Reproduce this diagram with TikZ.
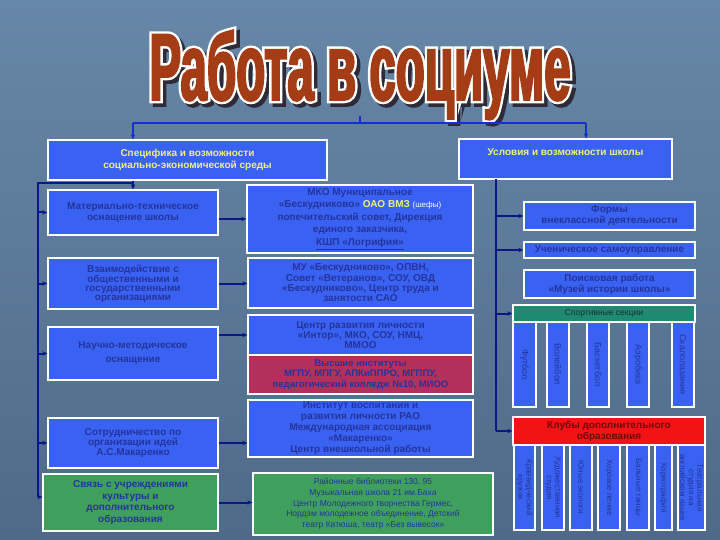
\documentclass[tikz,border=0pt]{standalone}
\usepackage{fontspec}
\setmainfont{Liberation Sans}
\newfontfamily\titlefont[FakeStretch=0.5, FakeBold=2]{Liberation Sans}
\newfontfamily\titleedge[FakeStretch=0.5, FakeBold=7]{Liberation Sans}
\usetikzlibrary{positioning, arrows.meta}

\definecolor{bgtop}{HTML}{6787A8}
\definecolor{bgbot}{HTML}{4F6A88}
\definecolor{boxblue}{HTML}{3A62F2}
\definecolor{boxtext}{HTML}{24349C}
\definecolor{boxgreen}{HTML}{3FA05E}
\definecolor{boxcrimson}{HTML}{B3305C}
\definecolor{boxteal}{HTML}{1F8A72}
\definecolor{boxred}{HTML}{F21414}
\definecolor{arrowblue}{HTML}{0B1688}
\definecolor{barblue}{HTML}{1530D0}
\definecolor{titlered}{HTML}{A43C16}
\definecolor{titleshade}{HTML}{2E2A36}
\definecolor{capyellow}{HTML}{F2F27A}

\begin{document}
\begin{tikzpicture}[x=1pt, y=-1pt, >={Stealth[length=5pt,width=4.5pt]},
    bluebox/.style={draw=white, line width=1.3pt, fill=boxblue, text=boxtext,
        font=\bfseries\fontsize{10}{11.5}\selectfont, align=center, inner sep=1pt},
    greenbox/.style={bluebox, fill=boxgreen},
    capbox/.style={bluebox, text=capyellow},
    vbox/.style={bluebox, rotate=-90, font=\fontsize{9}{10}\selectfont},
    clubbox/.style={vbox, font=\fontsize{8}{8.6}\selectfont},
    conn/.style={draw=arrowblue, line width=2pt},
    arr/.style={conn, ->},
    barline/.style={draw=barblue, line width=2pt}]

    % Background
    \shade[top color=bgtop, bottom color=bgbot] (0,0) rectangle (720,540);
    \useasboundingbox (0,0) rectangle (720,540);

    % Title
    \node[font=\titleedge\bfseries\fontsize{95}{95}\selectfont, text=titleshade, anchor=base] (titleshadow) at (363.5,103.5)
        {Работа в социуме};
    \node[font=\titleedge\bfseries\fontsize{95}{95}\selectfont, text=white, anchor=base] (titleedge) at (360,100)
        {Работа в социуме};
    \node[font=\titlefont\bfseries\fontsize{95}{95}\selectfont, text=titlered, anchor=base] (title) at (360,100)
        {Работа в социуме};

    % Two main blocks
    \node[capbox, minimum width=279pt, minimum height=40pt] (social) at (187.5,160)
        {Специфика и возможности\\социально-экономической среды};
    \node[capbox, minimum width=213pt, minimum height=40pt, text depth=14pt] (school) at (565.5,159)
        {Условия и возможности школы};

    % Left column
    \node[bluebox, minimum width=170pt, minimum height=45pt] (equip) at (133,212.5)
        {Материально-техническое\\оснащение школы};
    \node[bluebox, minimum width=170pt, minimum height=51pt, font=\bfseries\fontsize{10}{9}\selectfont] (orgs) at (133,283.5)
        {Взаимодействие с\\общественными и\\государственными\\организациями};
    \node[bluebox, minimum width=170pt, minimum height=53pt, font=\bfseries\fontsize{10}{14}\selectfont] (method) at (133,353.5)
        {Научно-методическое\\оснащение};
    \node[bluebox, minimum width=170pt, minimum height=50pt, font=\bfseries\fontsize{10}{10}\selectfont] (makarenko) at (133,443)
        {Сотрудничество по\\организации идей\\А.С.Макаренко};
    \node[greenbox, minimum width=175pt, minimum height=57pt] (culture) at (130.5,502.5)
        {Связь с учреждениями\\культуры и\\дополнительного\\образования};

    % Middle column
    \node[bluebox, minimum width=226pt, minimum height=68pt, font=\bfseries\fontsize{10}{12.5}\selectfont] (mko) at (360,219)
        {МКО Муниципальное\\«Бескудниково» {\color{capyellow}ОАО ВМЗ} {\color{white}\mdseries\footnotesize(шефы)}\\попечительский совет, Дирекция\\единого заказчика,\\\underline{КШП «Логрифия»}};
    \node[bluebox, minimum width=225pt, minimum height=50pt, font=\bfseries\fontsize{10}{10.3}\selectfont] (mu) at (360.5,283)
        {МУ «Бескудниково», ОПВН,\\Совет «Ветеранов», СОУ, ОВД\\«Бескудниково», Центр труда и\\занятости САО};
    \node[bluebox, minimum width=225pt, minimum height=40pt, font=\bfseries\fontsize{10}{10}\selectfont] (center) at (360.5,335)
        {Центр развития личности\\«Интор», МКО, СОУ, НМЦ,\\ММОО};
    \node[bluebox, fill=boxcrimson, minimum width=225pt, minimum height=39pt, font=\bfseries\fontsize{9.5}{10.5}\selectfont] (univ) at (360.5,374.5)
        {Высшие институты\\МГПУ, МПГУ, АПКиППРО, МГППУ,\\педагогический колледж №10, МИОО};
    \node[bluebox, minimum width=225pt, minimum height=57pt, font=\bfseries\fontsize{10}{11}\selectfont] (rao) at (360.5,428.5)
        {Институт воспитания и\\развития личности РАО\\Международная ассоциация\\«Макаренко»\\Центр внешкольной работы};
    \node[greenbox, minimum width=240pt, minimum height=62pt, font=\fontsize{8.5}{10.7}\selectfont] (libs) at (373,504)
        {Районные библиотеки 130, 95\\Музыкальная школа 21 им.Баха\\Центр Молодежного творчества Гермес,\\Нордэм молодежное объединение, Детский\\театр Катюша, театр «Без вывесок»};

    % Right column
    \node[bluebox, minimum width=171pt, minimum height=28pt, font=\bfseries\fontsize{10}{11}\selectfont] (forms) at (609.5,216)
        {Формы\\внеклассной деятельности};
    \node[bluebox, minimum width=171pt, minimum height=16pt] (selfgov) at (609.5,250)
        {Ученическое самоуправление};
    \node[bluebox, minimum width=171pt, minimum height=28pt, font=\bfseries\fontsize{10}{11}\selectfont] (museum) at (609.5,284)
        {Поисковая работа\\«Музей истории школы»};
    \node[bluebox, fill=boxteal, text=boxteal!40!black, minimum width=182pt, minimum height=17pt, font=\fontsize{8.5}{9}\selectfont] (sport) at (604,313.5)
        {Спортивные секции};
    \node[vbox, minimum width=85pt, minimum height=23pt] (s1) at (524.5,364.5) {Футбол};
    \node[vbox, minimum width=85pt, minimum height=22pt] (s2) at (558,364.5) {Волейбол};
    \node[vbox, minimum width=85pt, minimum height=22pt] (s3) at (598,364.5) {Баскетбол};
    \node[vbox, minimum width=85pt, minimum height=22pt] (s4) at (638,364.5) {Аэробика};
    \node[vbox, minimum width=85pt, minimum height=22pt] (s5) at (683,364.5) {Скалолазание};
    \node[bluebox, fill=boxred, text=boxred!45!black, minimum width=192pt, minimum height=28pt, font=\bfseries\fontsize{10}{11}\selectfont] (clubs) at (609,431)
        {Клубы дополнительного\\образования};
    \node[clubbox, minimum width=85pt, minimum height=21pt] (c1) at (524.5,487.5) {Краеведческий\\кружок};
    \node[clubbox, minimum width=85pt, minimum height=22pt] (c2) at (553,487.5) {Художественная\\студия};
    \node[clubbox, minimum width=85pt, minimum height=22pt] (c3) at (581,487.5) {Юные экологи};
    \node[clubbox, minimum width=85pt, minimum height=22pt] (c4) at (609,487.5) {Хоровое пение};
    \node[clubbox, minimum width=85pt, minimum height=22pt] (c5) at (638,487.5) {Бальные танцы};
    \node[clubbox, minimum width=85pt, minimum height=17pt] (c6) at (663.5,487.5) {Хореография};
    \node[clubbox, minimum width=85pt, minimum height=27pt] (c7) at (691.5,487.5) {Театральная\\студия на\\английском языке};

    % Top bar
    \coordinate (tick) at (360,116);
    \coordinate (barL) at (133,123);
    \coordinate (barR) at (586,123);
    \draw[barline] (tick) -- (tick |- barL);
    \draw[barline] (barL) -- (barR);
    \draw[barline, ->] (barL) -- (barL |- social.north);
    \draw[barline, ->] (barR) -- (barR |- school.north);

    % Left spine
    \coordinate (ltop) at (38,183);
    \coordinate (lbot) at (38,497);
    \draw[arr] (equip.north |- social.south) -- (equip.north);
    \draw[conn] (equip.north |- ltop) -- (ltop) -- (lbot);
    \draw[arr] (ltop |- equip.west) -- (equip.west);
    \draw[arr] (ltop |- orgs.west) -- (orgs.west);
    \draw[arr] (ltop |- method.west) -- (method.west);
    \draw[arr] (ltop |- makarenko.west) -- (makarenko.west);
    \draw[arr] (lbot) -- (lbot -| culture.west);

    % Left to middle
    \draw[arr] (mko.west -| equip.east) -- (mko.west);
    \draw[arr] (orgs.east) -- (orgs.east -| mu.west);
    \draw[arr] (center.west -| method.east) -- (center.west);
    \draw[arr] (makarenko.east) -- (makarenko.east -| rao.west);
    \draw[arr] (culture.east) -- (culture.east -| libs.west);

    % Right spine
    \coordinate (rtop) at (496,179);
    \coordinate (rbot) at (496,431);
    \draw[conn] (rtop) -- (rbot);
    \draw[arr] (rtop |- forms.west) -- (forms.west);
    \draw[arr] (rtop |- selfgov.west) -- (selfgov.west);
    \draw[arr] (rtop |- sport.west) -- (sport.west);
    \draw[arr] (rbot) -- (clubs.west);

\end{tikzpicture}
\end{document}
